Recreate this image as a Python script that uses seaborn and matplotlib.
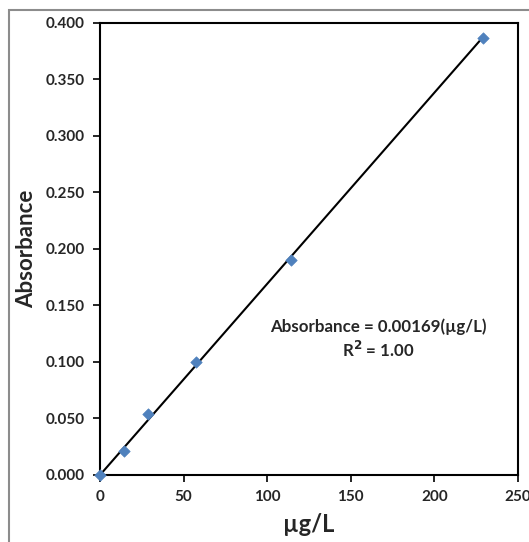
import matplotlib
matplotlib.use("Agg")
import numpy as np
import pandas as pd
import matplotlib.pyplot as plt
import seaborn as sns
from matplotlib.patches import Rectangle

# calibration data
conc = [0, 14.3, 28.6, 57.2, 114.4, 228.8]       # µg/L
absorb = [0.000, 0.021, 0.054, 0.100, 0.190, 0.386]
slope = 0.00169
x_ticks = [0, 50, 100, 150, 200, 250]
y_ticks = [0.0, 0.05, 0.10, 0.15, 0.20, 0.25, 0.30, 0.35, 0.40]

sns.set_theme(style="white")
plt.rcParams['font.family'] = ['Lato', 'DejaVu Sans']
plt.rcParams['font.weight'] = 'bold'

df = pd.DataFrame({'conc': conc, 'abs': absorb})

fig = plt.figure(figsize=(5.29, 5.42), dpi=100)
fig.patch.set_facecolor('white')
# outer chart-area border (runs off the right and bottom of the picture)
fig.patches.append(Rectangle((8.5 / 529, -0.1), 1.2, 0.1 + (542 - 9.5) / 542,
                             transform=fig.transFigure, fill=False,
                             edgecolor='#8c8c8c', linewidth=1.5, zorder=0))

ax = fig.add_axes([100 / 529, 67 / 542, 418 / 529, 452.5 / 542])

# trend line through origin
line_x = np.array([0, max(conc)])
ax.plot(line_x, slope * line_x, color='black', linewidth=1.5, zorder=2)

sns.scatterplot(data=df, x='conc', y='abs', ax=ax, marker='D', s=34,
                color='#4F81BD', edgecolor='#4F81BD', zorder=3, clip_on=False)

ax.set_xlim(0, 250)
ax.set_ylim(0, 0.4)
ax.set_xticks(x_ticks)
ax.set_yticks(y_ticks)
ax.set_xticklabels([str(t) for t in x_ticks], fontsize=11, fontweight='bold')
ax.set_yticklabels([f'{t:.3f}' for t in y_ticks], fontsize=11, fontweight='bold')
ax.tick_params(axis='both', direction='out', length=5, width=1.2,
               color='black', bottom=True, left=True, pad=6)

for s in ax.spines.values():
    s.set_color('black')
    s.set_linewidth(1.5)

ax.set_xlabel('µg/L', fontsize=17, fontweight='bold', labelpad=6)
ax.set_ylabel('Absorbance', fontsize=16, fontweight='bold', labelpad=6)

ax.text(0.665, 0.30, 'Absorbance = 0.00169(µg/L)\nR$^2$ = 1.00',
        transform=ax.transAxes, ha='center', va='center', fontsize=12.2,
        fontweight='bold', linespacing=1.25)

fig.savefig('out.png', dpi=100)
